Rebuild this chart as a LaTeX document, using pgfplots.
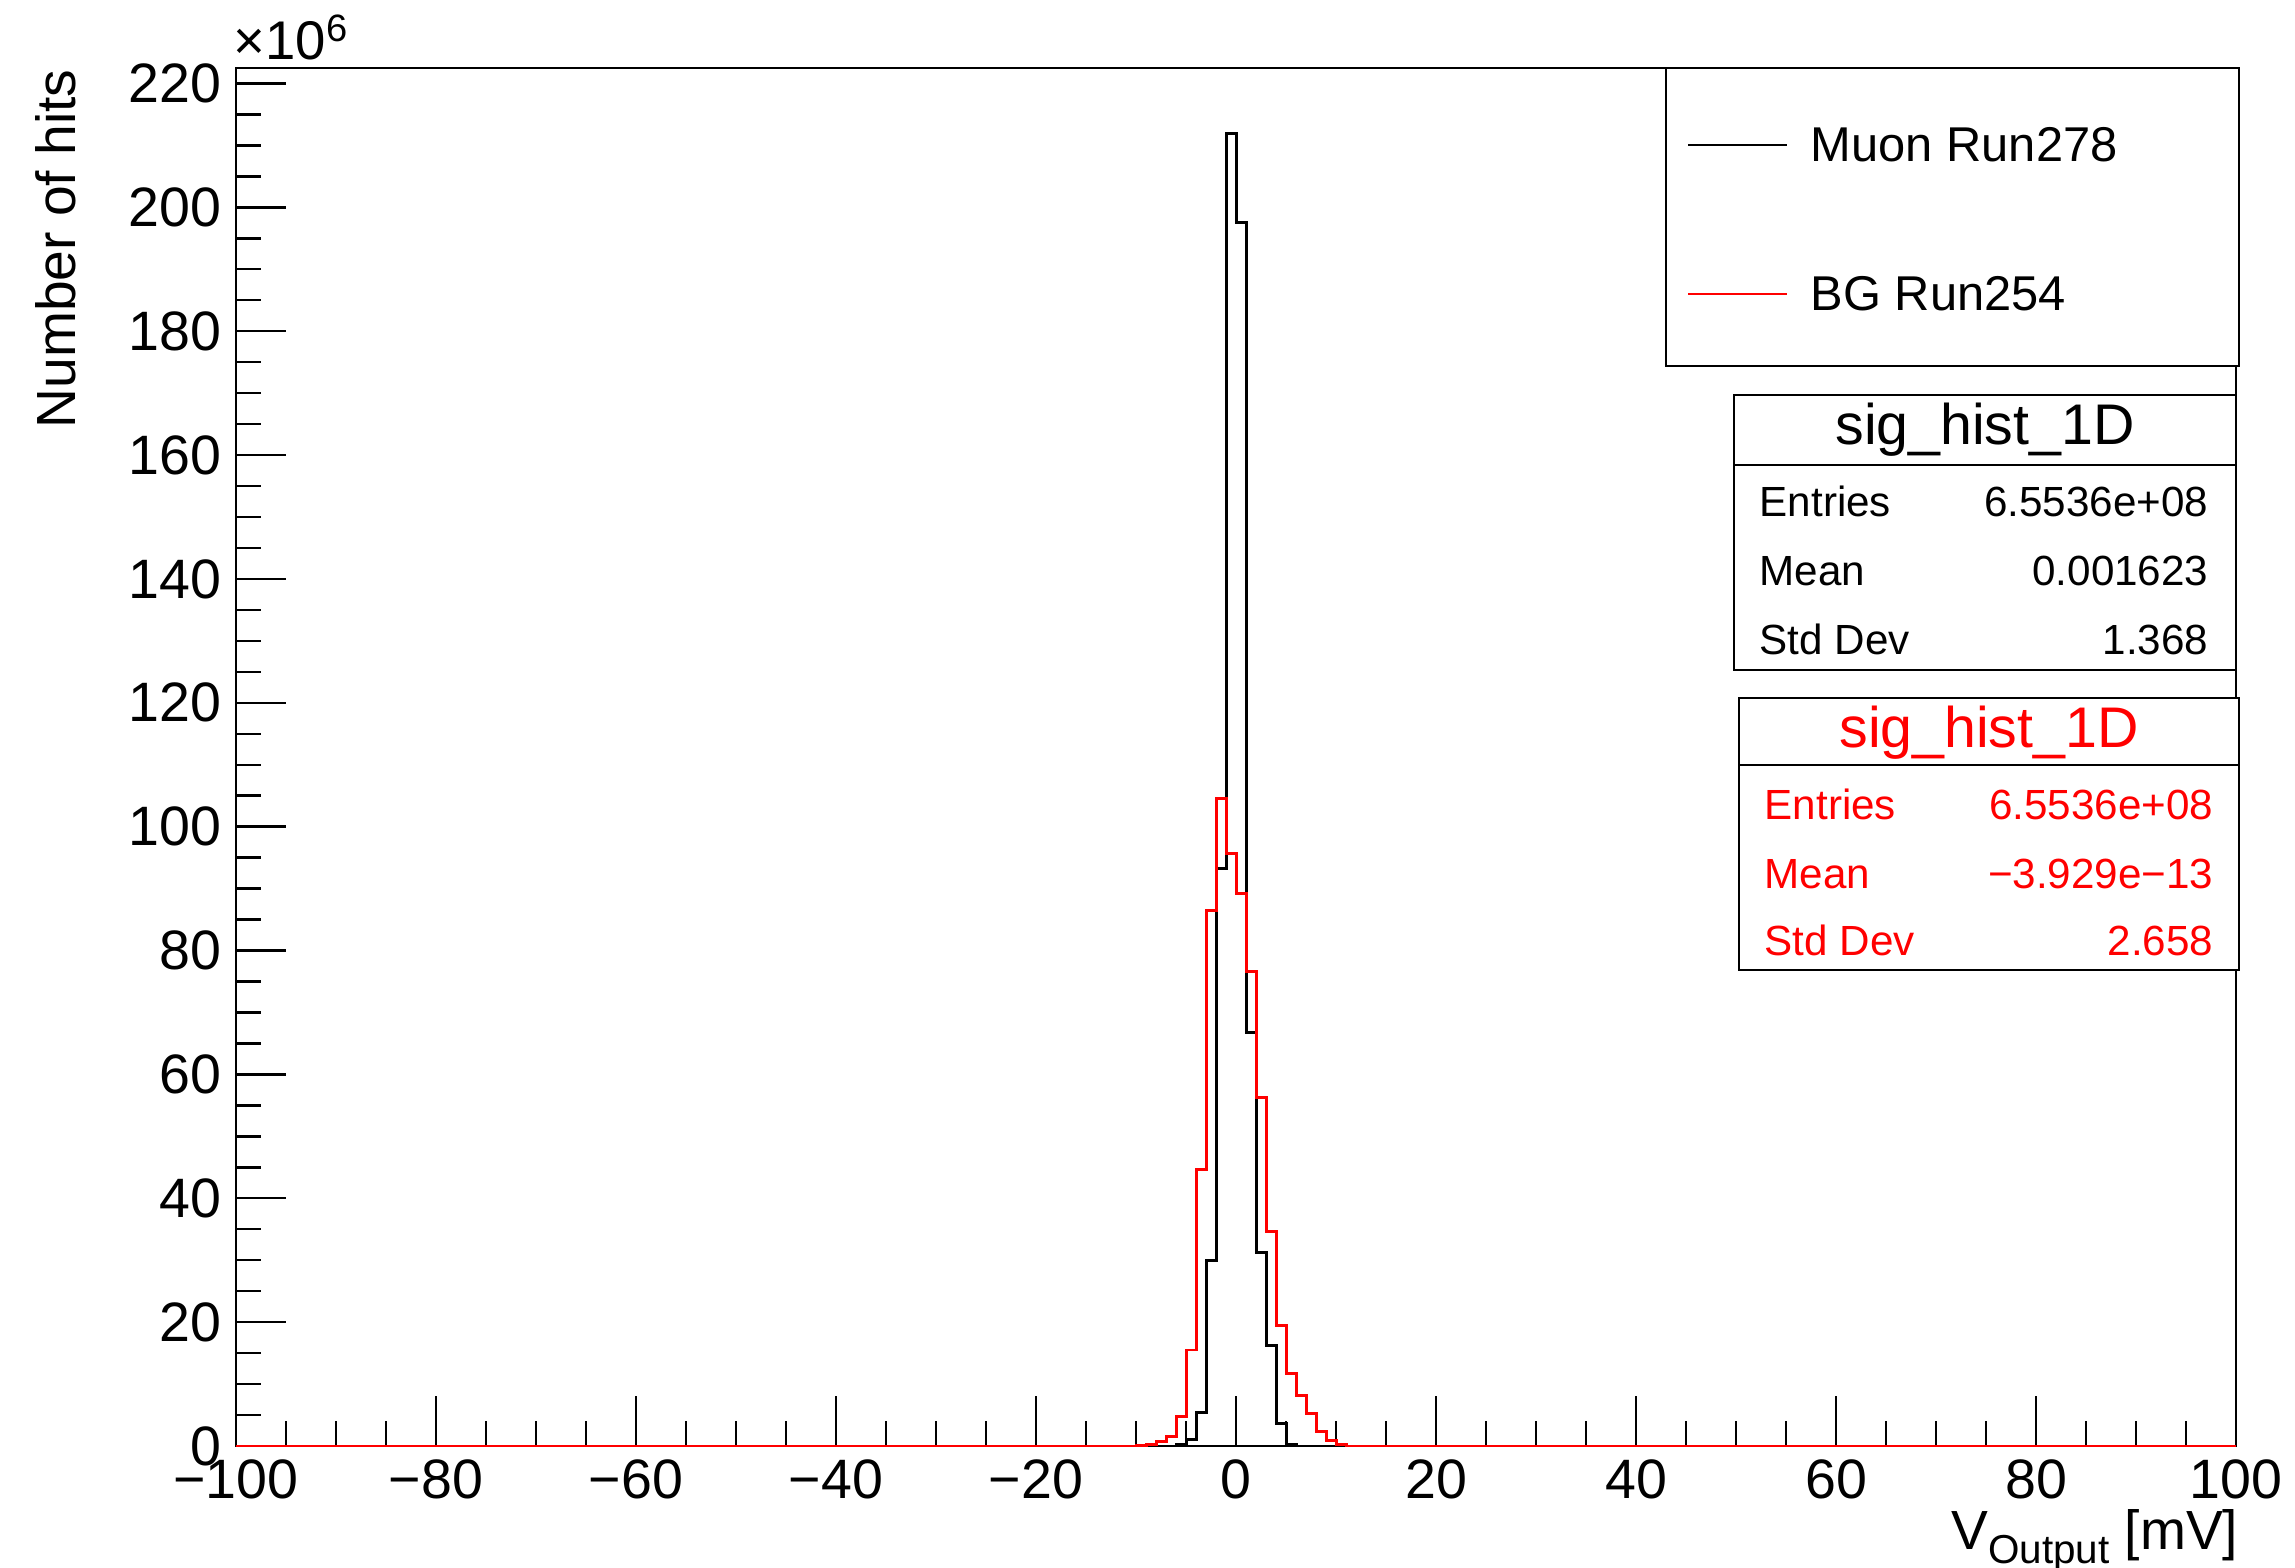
\documentclass[border=0pt]{standalone}
\usepackage{pgfplots}
\pgfplotsset{compat=1.18}
\usepackage{fontspec}
\setmainfont{Liberation Sans}
\begin{document}
\begin{tikzpicture}
\useasboundingbox (-23.6mm,-12.2mm) rectangle (205.9mm,144.6mm);
\begin{axis}[
  at={(0mm,0mm)}, anchor=south west,
  scale only axis, width=200mm, height=137.8mm,
  xmin=-100, xmax=100, ymin=0, ymax=222.5,
  clip=false,
  /pgf/number format/assume math mode=true,
  axis line style={line width=0.8pt},
  tick align=inside,
  xtick pos=left, ytick pos=left,
  xtick={-100,-80,...,100},
  xticklabels={−100,−80,−60,−40,−20,0,20,40,60,80,100},
  ytick={0,20,...,220},
  yticklabels={0,20,40,60,80,100,120,140,160,180,200,220},
  minor x tick num=3, minor y tick num=3,
  major tick length=5mm, minor tick length=2.5mm,
  tick style={black, line width=0.7pt},
  xticklabel style={font=\fontsize{15.8}{16}\selectfont, inner sep=0pt, anchor=north, yshift=-1.3mm},
  yticklabel style={font=\fontsize{15.8}{16}\selectfont, inner sep=0pt, anchor=east, xshift=-1.4mm},
  scaled y ticks=false,
]
\addplot[const plot mark left, black, line width=0.85pt] coordinates {
(-100,0) (-6,0.2) (-5,1.0) (-4,5.4) (-3,30.0) (-2,93.2) (-1,211.9) (0,197.6)
(1,66.7) (2,31.3) (3,16.2) (4,3.6) (5,0.3) (6,0) (100,0)};
\addplot[const plot mark left, red, line width=0.85pt] coordinates {
(-100,0) (-10,0.1) (-9,0.3) (-8,0.7) (-7,1.5) (-6,4.7) (-5,15.5) (-4,44.7)
(-3,86.5) (-2,104.5) (-1,95.7) (0,89.2) (1,76.6) (2,56.2) (3,34.6) (4,19.4)
(5,11.7) (6,8.1) (7,5.2) (8,2.3) (9,0.9) (10,0.3) (11,0) (100,0)};
\end{axis}
% axis titles
\node[rotate=90, anchor=east, inner sep=0pt, font=\fontsize{15.7}{16}\selectfont] at (-18.0mm,137.7mm) {Number of hits};
\node[anchor=base east, inner sep=0pt, font=\fontsize{15.7}{16}\selectfont] at (200.3mm,-10.4mm)
  {V\raisebox{-0.45ex}{\fontsize{11.5}{12}\selectfont Output} [mV]};
\node[anchor=base west, inner sep=0pt, font=\fontsize{15.5}{16}\selectfont] at (-0.3mm,138.6mm) {×10\textsuperscript{6}};
% legend
\draw[line width=0.6pt, fill=white] (143.0mm,108.0mm) rectangle (200.3mm,137.8mm);
\draw[black, line width=0.8pt] (145.2mm,130.1mm) -- (155.1mm,130.1mm);
\draw[red, line width=0.8pt] (145.2mm,115.2mm) -- (155.1mm,115.2mm);
\node[anchor=west, inner sep=0pt, font=\fontsize{13.9}{14}\selectfont] at (157.4mm,130.1mm) {Muon Run278};
\node[anchor=west, inner sep=0pt, font=\fontsize{13.9}{14}\selectfont] at (157.4mm,115.2mm) {BG Run254};
% stats box 1
\draw[line width=0.6pt, fill=white] (149.8mm,77.6mm) rectangle (200.0mm,105.1mm);
\draw[line width=0.6pt] (149.8mm,98.1mm) -- (200.0mm,98.1mm);
\node[font=\fontsize{16.3}{17}\selectfont, inner sep=0pt] at (174.9mm,101.6mm) {sig\_hist\_1D};
\begin{scope}[every node/.style={inner sep=0pt, font=\fontsize{12}{13}\selectfont}]
\node[anchor=base west] at (152.3mm,92.9mm) {Entries};
\node[anchor=base west] at (152.3mm,86.0mm) {Mean};
\node[anchor=base west] at (152.3mm,79.1mm) {Std Dev};
\node[anchor=base east] at (197.3mm,92.9mm) {6.5536e+08};
\node[anchor=base east] at (197.3mm,86.0mm) {0.001623};
\node[anchor=base east] at (197.3mm,79.1mm) {1.368};
\end{scope}
% stats box 2
\draw[line width=0.6pt, fill=white] (150.3mm,47.6mm) rectangle (200.3mm,74.8mm);
\draw[line width=0.6pt] (150.3mm,68.1mm) -- (200.3mm,68.1mm);
\node[red, font=\fontsize{16.3}{17}\selectfont, inner sep=0pt] at (175.3mm,71.3mm) {sig\_hist\_1D};
\begin{scope}[every node/.style={red, inner sep=0pt, font=\fontsize{12}{13}\selectfont}]
\node[anchor=base west] at (152.8mm,62.6mm) {Entries};
\node[anchor=base west] at (152.8mm,55.7mm) {Mean};
\node[anchor=base west] at (152.8mm,49.0mm) {Std Dev};
\node[anchor=base east] at (197.8mm,62.6mm) {6.5536e+08};
\node[anchor=base east] at (197.8mm,55.7mm) {−3.929e−13};
\node[anchor=base east] at (197.8mm,49.0mm) {2.658};
\end{scope}
\end{tikzpicture}
\end{document}
